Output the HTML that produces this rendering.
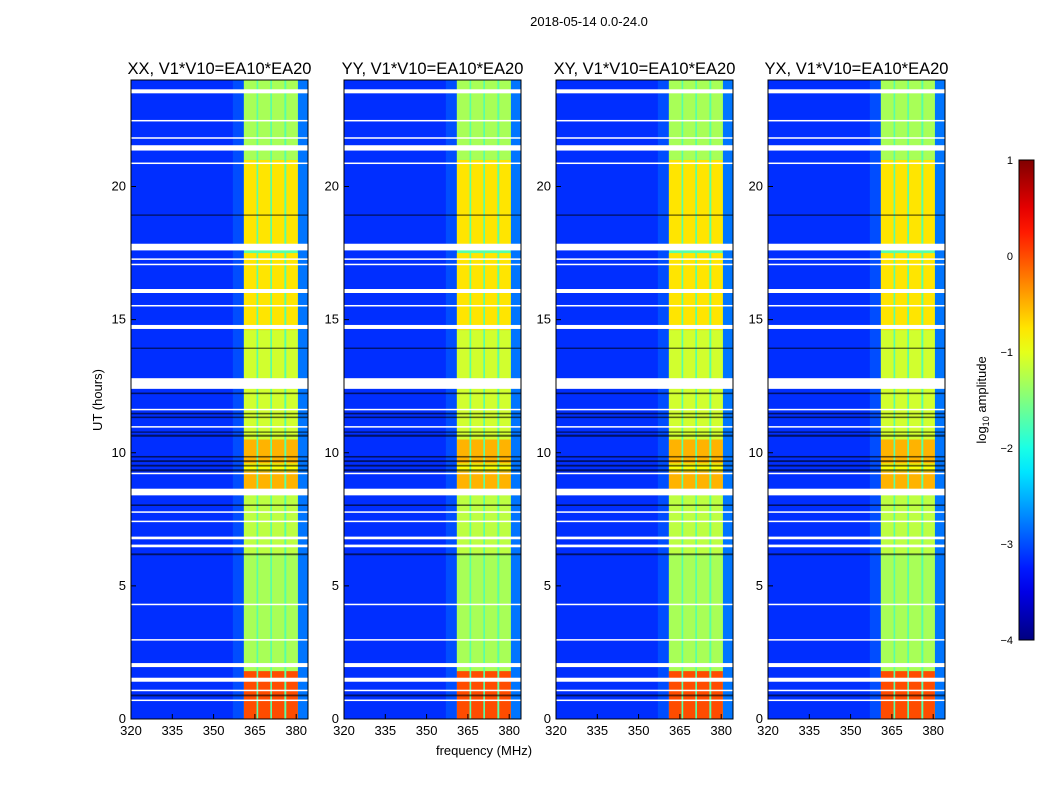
<!DOCTYPE html>
<html><head><meta charset="utf-8"><style>
body{margin:0;background:#fff;}
svg text{font-family:"Liberation Sans",sans-serif;}
</style></head><body>
<svg id="chart" width="1050" height="800">
<text x="589" y="26" font-size="13" text-anchor="middle">2018-05-14 0.0-24.0</text>
<text transform="translate(102,400) rotate(-90)" font-size="13" text-anchor="middle">UT (hours)</text>
<text x="484" y="755" font-size="13" text-anchor="middle">frequency (MHz)</text>
<text transform="translate(986,400) rotate(-90)" font-size="13" text-anchor="middle">log<tspan font-size="9" dy="3">10</tspan><tspan dy="-3"> amplitude</tspan></text>
<g id="panels"></g>
<g id="cbar"></g>
</svg>
<script>
const panelNames=["XX","YY","XY","YX"];
const panelLefts=[131,344,556,768];
const freqTicks=[320,335,350,365,380];
const hourTicks=[0,5,10,15,20];
const channels=[[361,365.6],[366.2,370.6],[371.2,375.7],[376.4,380.6]];
// band level segments [startHour,endHour,log10amp]
const bandSegs=[[0,1.8,0.0],[1.8,6.2,-1.3],[6.2,8.5,-1.2],[8.5,9.3,-0.5],[9.3,9.6,-0.9],[9.6,10.5,-0.5],[10.5,14.6,-1.1],[14.6,17.5,-0.75],[17.8,21.0,-0.75],[21.0,24,-1.3]];
const bgLevel=-3.15;
const edgeLevel=-3.0;
const gaps=[[23.5,23.65],[22.45,22.5],[21.8,21.85],[21.35,21.55],[20.85,20.9],[17.6,17.85],[17.25,17.3],[17.05,17.1],[16.0,16.15],[15.5,15.55],[14.65,14.8],[12.4,12.8],[11.6,11.65],[10.95,11.0],[9.2,9.25],[8.4,8.65],[7.75,7.8],[7.4,7.45],[6.75,6.85],[6.45,6.55],[4.3,4.33],[2.95,3.0],[1.95,2.1],[1.4,1.55],[1.05,1.1],[0.7,0.73]];
const darkRows=[[9.3,9.38],[9.48,9.55],[9.65,9.72],[9.82,9.88],[10.6,10.68],[10.75,10.8],[11.3,11.36],[11.44,11.5],[12.2,12.26],[13.9,13.95],[8.0,8.06],[6.15,6.22],[18.9,18.95],[0.85,0.92]];
const cbTicks=[1,0,-1,-2,-3,-4];
const vmin=-4,vmax=1;
function jet(v){let t=Math.max(0,Math.min(1,(v-vmin)/(vmax-vmin)));
 const f=(c)=>Math.max(0,Math.min(1,1.5-Math.abs(4*t-c)));
 return `rgb(${Math.round(255*f(3))},${Math.round(255*f(2))},${Math.round(255*f(1))})`;}
const NS="http://www.w3.org/2000/svg";
function mk(tag,attrs,parent){const e=document.createElementNS(NS,tag);for(const k in attrs)e.setAttribute(k,attrs[k]);parent.appendChild(e);return e;}
const W=177,yTop=80,yBot=719,pxPerMHz=41.3/15,pxPerHr=(yBot-yTop)/24;
const panels=document.getElementById('panels');
panelNames.forEach((nm,i)=>{
 const L=panelLefts[i];
 const xs=f=>L+(f-320)*pxPerMHz, ys=h=>yBot-h*pxPerHr;
 const g=mk('g',{},panels);
 
 
 const bg=mk('rect',{x:L,y:yTop,width:W,height:yBot-yTop,fill:jet(bgLevel)},g);
 
 
 const ed=mk('rect',{x:xs(357),y:yTop,width:xs(361)-xs(357),height:yBot-yTop,fill:jet(edgeLevel)},g);
 
 
 const ed2=mk('rect',{x:xs(380.6),y:yTop,width:L+W-xs(380.6),height:yBot-yTop,fill:jet(-2.8)},g);
 
 
 mk('rect',{x:xs(361),y:yTop,width:xs(380.6)-xs(361),height:yBot-yTop,fill:jet(-1.7)},g);
 bandSegs.forEach(s=>{channels.forEach(c=>{
  const r=mk('rect',{x:xs(c[0]),y:ys(s[1]),width:xs(c[1])-xs(c[0]),height:ys(s[0])-ys(s[1]),fill:jet(s[2])},g);
  
  
 });});
 darkRows.forEach(d=>{const r=mk('rect',{x:L,y:ys(d[1]),width:W,height:ys(d[0])-ys(d[1]),fill:'#000',opacity:0.6},g);
  
  });
 gaps.forEach(d=>{const r=mk('rect',{x:L,y:ys(d[1]),width:W,height:Math.max(1.5,ys(d[0])-ys(d[1])),fill:'#fff'},g);
  
  });
 const fr=mk('rect',{x:L,y:yTop,width:W,height:yBot-yTop,fill:'none',stroke:'#000','stroke-width':1},g);
 
 
 const t=mk('text',{x:L+W/2,y:74,'font-size':16.5,'text-anchor':'middle'},g);
 t.textContent=nm+", V1*V10=EA10*EA20";
 
 
 freqTicks.forEach(f=>{mk('line',{x1:xs(f),x2:xs(f),y1:yBot,y2:yBot-5,stroke:'#000'},g);
  const tx=mk('text',{x:xs(f),y:yBot+16,'font-size':13,'text-anchor':'middle'},g);tx.textContent=f;
  
  });
 hourTicks.forEach(h=>{mk('line',{x1:L,x2:L+5,y1:ys(h),y2:ys(h),stroke:'#000'},g);
  const tx=mk('text',{x:L-5,y:ys(h)+4,'font-size':13,'text-anchor':'end'},g);tx.textContent=h;
  
  });
});
const cb=document.getElementById('cbar');
const defs=mk('defs',{},cb);
const grad=mk('linearGradient',{id:'jetg',x1:0,y1:1,x2:0,y2:0},defs);
for(let k=0;k<=20;k++){const v=vmin+(vmax-vmin)*k/20;mk('stop',{offset:k/20,'stop-color':jet(v)},grad);}
const cbx=1019,cbt=160,cbb=640;
const cbr=mk('rect',{x:cbx,y:cbt,width:15,height:cbb-cbt,fill:'url(#jetg)',stroke:'#000'},cb);


cbTicks.forEach(v=>{const y=cbb-(v-vmin)/(vmax-vmin)*(cbb-cbt);
 const tx=mk('text',{x:1013,y:y+4,'font-size':11,'text-anchor':'end'},cb);tx.textContent=v<0?'\u2212'+(-v):v;
 
 });
</script>
</body></html>
